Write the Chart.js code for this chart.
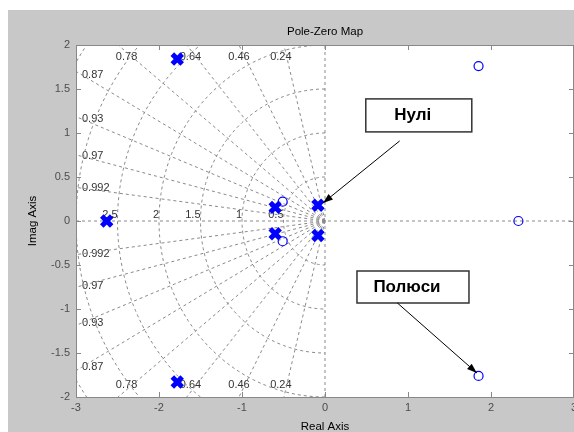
<!DOCTYPE html>
<html>
<head>
<meta charset="utf-8">
<script src="https://cdn.jsdelivr.net/npm/chart.js@4/dist/chart.umd.min.js"></script>
<style>
  html, body { margin: 0; padding: 0; background: #fff; }
</style>
</head>
<body>
<canvas id="pzmap" width="574" height="432"></canvas>
<script>
// poles (drawn as x) and zeros (drawn as o)
const poleRe = [-2.63, -1.78, -1.78, -0.6, -0.6, -0.085, -0.085];
const poleIm = [0, 1.84, -1.83, 0.155, -0.145, 0.18, -0.165];
const zeroRe = [1.85, 1.85, 2.33, -0.51, -0.51];
const zeroIm = [1.76, -1.76, 0, 0.22, -0.23];

// s-plane grid
const dampingRatios = [0.24, 0.46, 0.64, 0.78, 0.87, 0.93, 0.97, 0.992];
const naturalFreqs = [0.5, 1, 1.5, 2, 2.5, 3, 3.5];
const freqLabels = [0.5, 1, 1.5, 2, 2.5];

const xTicks = [-3, -2, -1, 0, 1, 2, 3];
const yTicks = [-2, -1.5, -1, -0.5, 0, 0.5, 1, 1.5, 2];

const FONT = '"Liberation Sans", Arial, sans-serif';
const gridColor = '#8a8a8a';

// grid curves
const gridLines = [];
dampingRatios.forEach(z => {
  const s = Math.sqrt(1 - z * z);
  gridLines.push([{x: 0, y: 0}, {x: -4 * z, y: 4 * s}]);
  gridLines.push([{x: 0, y: 0}, {x: -4 * z, y: -4 * s}]);
});
naturalFreqs.forEach(w => {
  const pts = [];
  for (let k = 0; k <= 120; k++) {
    const t = Math.PI / 2 + Math.PI * k / 120;
    pts.push({x: w * Math.cos(t), y: w * Math.sin(t)});
  }
  gridLines.push(pts);
});
gridLines.push([{x: -3, y: 0}, {x: 3, y: 0}]);
gridLines.push([{x: 0, y: -2}, {x: 0, y: 2}]);

const datasets = [
  {
    label: 'poles',
    data: poleRe.map((v, i) => ({x: v, y: poleIm[i]})),
    pointStyle: 'crossRot',
    pointRadius: 7,
    pointBorderWidth: 5,
    borderColor: '#0000ff',
    backgroundColor: '#0000ff'
  },
  {
    label: 'zeros',
    data: zeroRe.map((v, i) => ({x: v, y: zeroIm[i]})),
    pointStyle: 'circle',
    pointRadius: 4.5,
    pointBorderWidth: 1.2,
    borderColor: '#0000ff',
    backgroundColor: 'rgba(0,0,0,0)'
  }
];
gridLines.forEach(pts => datasets.push({
  data: pts,
  showLine: true,
  pointRadius: 0,
  borderColor: gridColor,
  borderWidth: 1,
  borderDash: [3, 3],
  fill: false
}));

// annotation boxes and arrows (data coords)
const notes = [
  {text: 'Нулі', at: [1.13, 1.2], w: 106, h: 33, from: [0.9, 0.91], to: [-0.024, 0.205]},
  {text: 'Полюси', at: [1.06, -0.75], w: 112, h: 32, from: [0.87, -0.93], to: [1.83, -1.727]}
];

function arrow(ctx, x1, y1, x2, y2) {
  const a = Math.atan2(y2 - y1, x2 - x1);
  ctx.beginPath();
  ctx.moveTo(x1, y1);
  ctx.lineTo(x2, y2);
  ctx.stroke();
  ctx.beginPath();
  ctx.moveTo(x2, y2);
  ctx.lineTo(x2 - 10 * Math.cos(a) + 3.5 * Math.sin(a), y2 - 10 * Math.sin(a) - 3.5 * Math.cos(a));
  ctx.lineTo(x2 - 10 * Math.cos(a) - 3.5 * Math.sin(a), y2 - 10 * Math.sin(a) + 3.5 * Math.cos(a));
  ctx.closePath();
  ctx.fill();
}

const pzDecor = {
  id: 'pzDecor',
  beforeDraw(chart) {
    const {ctx, chartArea: a} = chart;
    ctx.save();
    ctx.fillStyle = '#c8c8c8';
    ctx.fillRect(8, 10, chart.width - 8, chart.height - 10);
    ctx.fillStyle = '#fff';
    ctx.fillRect(a.left, a.top, a.right - a.left, a.bottom - a.top);
    ctx.fillStyle = '#000';
    ctx.font = '11.5px ' + FONT;
    ctx.textAlign = 'center';
    ctx.textBaseline = 'middle';
    ctx.fillText('Pole-Zero Map', (a.left + a.right) / 2, 32);
    ctx.restore();
  },
  beforeDatasetsDraw(chart) {
    const {ctx, chartArea: a, scales: {x, y}} = chart;
    ctx.save();
    ctx.font = '11px ' + FONT;
    ctx.fillStyle = '#333';
    ctx.textBaseline = 'middle';
    dampingRatios.forEach(z => {
      const slope = Math.sqrt(1 - z * z) / z;
      [1, -1].forEach(sg => {
        if (-2 / slope >= -3) {
          ctx.textAlign = 'center';
          ctx.fillText(String(z), x.getPixelForValue(-1.86 / slope) - 6, y.getPixelForValue(sg * 1.86));
        } else {
          ctx.textAlign = 'left';
          ctx.fillText(String(z), a.left + 6, y.getPixelForValue(sg * 2.93 * slope));
        }
      });
    });
    ctx.textAlign = 'right';
    ctx.textBaseline = 'bottom';
    freqLabels.forEach(w => {
      ctx.fillText(String(w), x.getPixelForValue(-w), y.getPixelForValue(0) - 1);
    });
    ctx.restore();
  },
  afterDatasetsDraw(chart) {
    const {ctx, chartArea: a, scales: {x, y}} = chart;
    ctx.save();
    // axes box + inner ticks
    ctx.strokeStyle = '#888';
    ctx.lineWidth = 1;
    ctx.strokeRect(a.left + 0.5, a.top + 0.5, a.right - a.left - 1, a.bottom - a.top);
    ctx.beginPath();
    xTicks.forEach(v => {
      const px = Math.round(x.getPixelForValue(v)) + 0.5;
      ctx.moveTo(px, a.bottom); ctx.lineTo(px, a.bottom - 5);
      ctx.moveTo(px, a.top); ctx.lineTo(px, a.top + 5);
    });
    yTicks.forEach(v => {
      const py = Math.round(y.getPixelForValue(v)) + 0.5;
      ctx.moveTo(a.left, py); ctx.lineTo(a.left + 5, py);
      ctx.moveTo(a.right, py); ctx.lineTo(a.right - 5, py);
    });
    ctx.stroke();
    // annotations
    notes.forEach(n => {
      const cx = x.getPixelForValue(n.at[0]);
      const cy = y.getPixelForValue(n.at[1]);
      ctx.fillStyle = '#fff';
      ctx.fillRect(cx - n.w / 2, cy - n.h / 2, n.w, n.h);
      ctx.strokeStyle = '#333';
      ctx.lineWidth = 1.5;
      ctx.strokeRect(cx - n.w / 2, cy - n.h / 2, n.w, n.h);
      ctx.fillStyle = '#000';
      ctx.font = 'bold 17px ' + FONT;
      ctx.textAlign = 'center';
      ctx.textBaseline = 'middle';
      ctx.fillText(n.text, cx - 6, cy);
      ctx.strokeStyle = '#000';
      ctx.lineWidth = 1;
      arrow(ctx, x.getPixelForValue(n.from[0]), y.getPixelForValue(n.from[1]),
                 x.getPixelForValue(n.to[0]), y.getPixelForValue(n.to[1]));
    });
    ctx.restore();
  }
};

const tickFont = {family: FONT, size: 11};

new Chart(document.getElementById('pzmap'), {
  type: 'scatter',
  data: {datasets: datasets},
  options: {
    responsive: false,
    animation: false,
    devicePixelRatio: 1,
    layout: {autoPadding: false, padding: {left: 8, top: 45, right: 0, bottom: 0}},
    plugins: {legend: {display: false}, tooltip: {enabled: false}},
    scales: {
      x: {
        type: 'linear', min: -3, max: 3,
        afterBuildTicks: s => { s.ticks = xTicks.map(v => ({value: v})); },
        afterFit: s => { s.height = 35; s.paddingLeft = 0; s.paddingRight = 0; },
        grid: {display: false, drawTicks: false},
        border: {display: false},
        ticks: {padding: 4, color: '#4d4d4d', font: tickFont, callback: v => String(v)},
        title: {display: true, text: 'Real Axis', color: '#000', font: {family: FONT, size: 11.5, lineHeight: 1}, padding: {top: 0, bottom: -1}}
      },
      y: {
        type: 'linear', min: -2, max: 2,
        afterBuildTicks: s => { s.ticks = yTicks.map(v => ({value: v})); },
        afterFit: s => { s.width = 68; s.paddingTop = 0; s.paddingBottom = 0; },
        grid: {display: false, drawTicks: false},
        border: {display: false},
        ticks: {padding: 6, color: '#4d4d4d', font: tickFont, callback: v => String(v)},
        title: {display: true, text: 'Imag Axis', color: '#000', font: {family: FONT, size: 11.5, lineHeight: 1}, padding: {top: 19, bottom: 0}}
      }
    }
  },
  plugins: [pzDecor]
});
</script>
</body>
</html>
